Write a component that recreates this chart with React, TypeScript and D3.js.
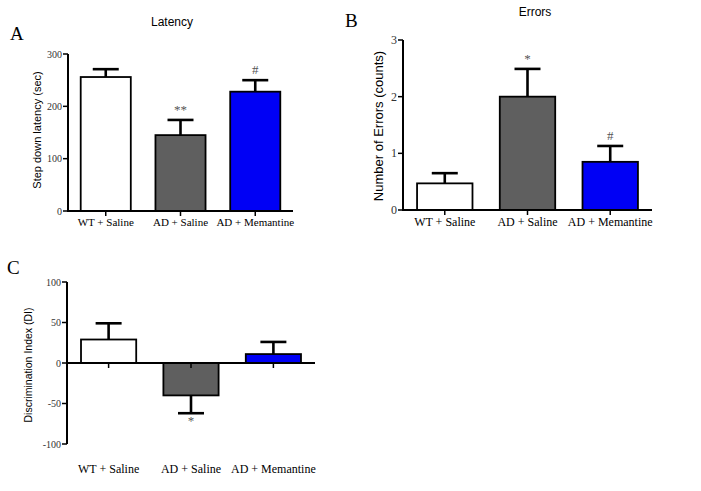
import React from "react";
import * as d3 from "d3";

const categories = ["WT + Saline", "AD + Saline", "AD + Memantine"];
const barColors = ["#ffffff", "#5f5f5f", "#0000f5"];

const latencyMean = [256, 145, 228];
const latencyErr = [15, 29, 22];
const latencyMarks = ["", "**", "#"];
const latencyTicks = [0, 100, 200, 300];

const errorsMean = [0.47, 2.0, 0.85];
const errorsErr = [0.18, 0.49, 0.28];
const errorsMarks = ["", "*", "#"];
const errorsTicks = [0, 1, 2, 3];

const diMean = [29, -40, 11];
const diErr = [20, -22, 15];
const diMarks = ["", "*", ""];
const diTicks = [-100, -50, 0, 50, 100];

type PanelProps = {
  letter: string;
  letterPos: [number, number];
  title?: string;
  titlePos?: [number, number];
  yLabel: string;
  yLabelPos: [number, number];
  yLabelSize: number;
  x0: number;
  x1: number;
  yDomain: [number, number];
  yRange: [number, number];
  ticks: number[];
  tickSize: number;
  means: number[];
  errs: number[];
  marks: string[];
  markOffset: number;
  catY: number;
  catSize: number;
};

const serif = "'Liberation Serif', 'Times New Roman', serif";
const sans = "'Liberation Sans', Arial, sans-serif";

function Panel(p: PanelProps) {
  const x = d3
    .scaleBand<string>()
    .domain(categories)
    .range([p.x0, p.x1])
    .paddingInner(0.33)
    .paddingOuter(0.17);
  const y = d3.scaleLinear().domain(p.yDomain).range(p.yRange);
  const y0 = y(0);
  const bw = x.bandwidth();
  const cap = 26;
  return (
    <g>
      <text x={p.letterPos[0]} y={p.letterPos[1]} fontFamily={serif} fontSize={19} fill="#000">
        {p.letter}
      </text>
      {p.title && p.titlePos && (
        <text x={p.titlePos[0]} y={p.titlePos[1]} fontFamily={sans} fontSize={12} textAnchor="middle" fill="#000">
          {p.title}
        </text>
      )}
      <text
        transform={`translate(${p.yLabelPos[0]},${p.yLabelPos[1]}) rotate(-90)`}
        fontFamily={sans}
        fontSize={p.yLabelSize}
        textAnchor="middle"
        dominantBaseline="central"
        fill="#000"
      >
        {p.yLabel}
      </text>
      {categories.map((c, i) => {
        const m = p.means[i];
        const e = p.errs[i];
        const cx = (x(c) as number) + bw / 2;
        const yTop = y(Math.max(m, 0));
        const yBot = y(Math.min(m, 0));
        const ye = y(m + e);
        return (
          <g key={c}>
            <line x1={cx} x2={cx} y1={y(m)} y2={ye} stroke="#000" strokeWidth={2.6} />
            <line x1={cx - cap / 2} x2={cx + cap / 2} y1={ye} y2={ye} stroke="#000" strokeWidth={2.6} />
            <rect
              x={x(c)}
              y={yTop}
              width={bw}
              height={yBot - yTop}
              fill={barColors[i]}
              stroke="#000"
              strokeWidth={1.8}
            />
            {p.marks[i] && (
              <text
                x={cx}
                y={m >= 0 ? ye - p.markOffset : ye + p.markOffset + 8}
                fontFamily={serif}
                fontSize={13}
                textAnchor="middle"
                fill="#555"
              >
                {p.marks[i]}
              </text>
            )}
            <line x1={cx} x2={cx} y1={y0} y2={y0 + 5} stroke="#000" strokeWidth={1.5} />
            <text x={cx} y={p.catY} fontFamily={serif} fontSize={p.catSize} textAnchor="middle" fill="#000">
              {c}
            </text>
          </g>
        );
      })}
      <line x1={p.x0} x2={p.x0} y1={p.yRange[1]} y2={p.yRange[0]} stroke="#000" strokeWidth={2} />
      <line x1={p.x0 - 1} x2={p.x1} y1={y0} y2={y0} stroke="#000" strokeWidth={2} />
      {p.ticks.map((t) => (
        <g key={t}>
          <line x1={p.x0 - 5} x2={p.x0} y1={y(t)} y2={y(t)} stroke="#000" strokeWidth={1.5} />
          <text
            x={p.x0 - 6}
            y={y(t)}
            fontFamily={serif}
            fontSize={p.tickSize}
            textAnchor="end"
            dominantBaseline="central"
            fill="#333"
          >
            {t}
          </text>
        </g>
      ))}
    </g>
  );
}

export default function App() {
  return (
    <svg
      width={701}
      height={491}
      style={{ position: "absolute", left: 0, top: 0, background: "#fff" }}
    >
      <rect width={701} height={491} fill="#fff" />
      <Panel
        letter="A"
        letterPos={[10, 40]}
        title="Latency"
        titlePos={[172, 26]}
        yLabel="Step down latency (sec)"
        yLabelPos={[37, 130]}
        yLabelSize={11}
        x0={68}
        x1={293}
        yDomain={[0, 300]}
        yRange={[211, 54]}
        ticks={latencyTicks}
        tickSize={10}
        means={latencyMean}
        errs={latencyErr}
        marks={latencyMarks}
        markOffset={6}
        catY={226}
        catSize={11}
      />
      <Panel
        letter="B"
        letterPos={[345, 27]}
        title="Errors"
        titlePos={[535, 16]}
        yLabel="Number of Errors (counts)"
        yLabelPos={[378, 126]}
        yLabelSize={13}
        x0={403}
        x1={652}
        yDomain={[0, 3]}
        yRange={[210, 40]}
        ticks={errorsTicks}
        tickSize={12}
        means={errorsMean}
        errs={errorsErr}
        marks={errorsMarks}
        markOffset={6}
        catY={226}
        catSize={12}
      />
      <Panel
        letter="C"
        letterPos={[7, 274]}
        yLabel="Discrimination Index (DI)"
        yLabelPos={[28, 365]}
        yLabelSize={10.5}
        x0={67}
        x1={315}
        yDomain={[-100, 100]}
        yRange={[444, 282]}
        ticks={diTicks}
        tickSize={10}
        means={diMean}
        errs={diErr}
        marks={diMarks}
        markOffset={4}
        catY={473}
        catSize={12}
      />
    </svg>
  );
}
